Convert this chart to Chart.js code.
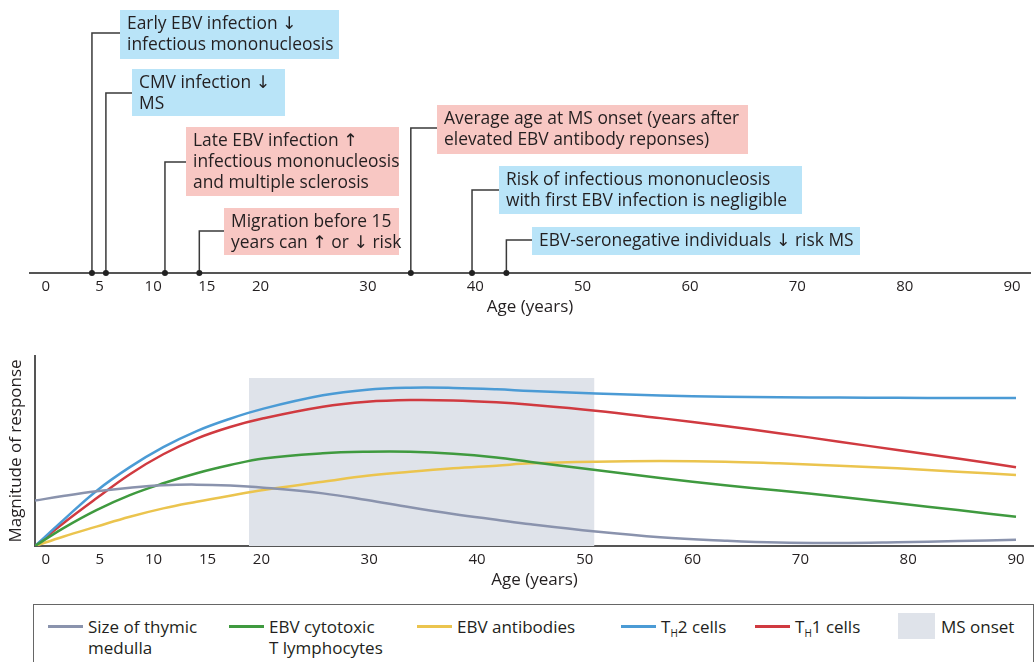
<!DOCTYPE html>
<html>
<head>
<meta charset="utf-8">
<script src="https://cdn.jsdelivr.net/npm/chart.js@4.4.1/dist/chart.umd.min.js"></script>
<style>
  body { margin: 0; background: #fff; width: 1034px; height: 662px; overflow: hidden; position: relative; font-family: 'Open Sans', sans-serif; color: #231f20; }
  #timeline { position: absolute; left: 0; top: 0; }
  #response { position: absolute; left: 0; top: 330px; }
  #legend { position: absolute; left: 33px; top: 604px; width: 1001px; height: 80px; border: 1px solid #666; box-sizing: border-box; }
  .item { position: absolute; top: 11px; display: flex; font-size: 17px; line-height: 21px; white-space: nowrap; }
  .mark { width: 35px; height: 3px; margin-top: 9px; margin-right: 5px; flex: none; }
  .box { position: absolute; top: 8px; width: 37px; height: 26px; background: #dfe3ea; }
  sub { font-size: 10px; vertical-align: -4px; line-height: 0; }
</style>
</head>
<body>
<canvas id="timeline" width="1034" height="320"></canvas>
<canvas id="response" width="1034" height="270"></canvas>
<div id="legend"></div>
<script>
// axis ticks shared by both panels
const tickAges = [0, 5, 10, 15, 20, 30, 40, 50, 60, 70, 80, 90];

// timeline events (age in years)
const eventAges = [4.3, 5.6, 11.1, 14.3, 34, 39.7, 42.9];
const eventTexts = [
  ['Early EBV infection ↓', 'infectious mononucleosis'],
  ['CMV infection ↓', 'MS'],
  ['Late EBV infection ↑', 'infectious mononucleosis', 'and multiple sclerosis'],
  ['Migration before 15', 'years can ↑ or ↓ risk'],
  ['Average age at MS onset (years after', 'elevated EBV antibody reponses)'],
  ['Risk of infectious mononucleosis', 'with first EBV infection is negligible'],
  ['EBV-seronegative individuals ↓ risk MS']
];
const eventEffect = ['down', 'down', 'up', 'up', 'up', 'down', 'down'];

// response curves
const ages = [-1, 1.6, 4.7, 7.8, 10.9, 14, 17.1, 20.2, 25.7, 29.8, 33.8, 37.8, 41.8, 45, 51, 57, 63, 68, 73.6, 79, 84.6, 90];
const thymicMedulla = [23.9, 26.3, 28.8, 30.7, 32.0, 32.3, 31.8, 30.7, 27.7, 24.2, 20.4, 16.9, 13.8, 11.4, 7.6, 4.6, 2.8, 1.8, 1.6, 2.0, 2.6, 3.3];
const ebvCtl = [0, 9.3, 18.9, 26.8, 33, 38.3, 42.6, 46.1, 48.8, 49.6, 49.6, 48.6, 46.6, 44.2, 40.0, 35.8, 32.0, 29.2, 25.9, 22.5, 18.9, 15.4];
const ebvAntibodies = [0, 4.9, 10.2, 15.4, 19.8, 23.3, 26.5, 29.5, 33.8, 37.0, 39.1, 40.9, 42.3, 43.5, 44.4, 44.7, 44.4, 43.5, 42.3, 40.9, 39.1, 37.4];
const th2Cells = [0, 13.5, 29, 41.5, 52, 60.5, 67, 72.3, 79.3, 82.3, 83.3, 83.2, 82.5, 81.6, 80.3, 79.2, 78.6, 78.3, 78.1, 78, 77.9, 77.9];
const th1Cells = [0, 11.9, 25.1, 37.8, 48.3, 56.5, 62.6, 67.2, 73.3, 75.9, 76.8, 76.6, 75.6, 74.3, 71.2, 67.3, 63.2, 59.4, 54.9, 50.5, 46.1, 41.4];
const msOnsetAges = [18.85, 50.9];
const msOnsetLevel = 88.4;

const seriesNames = ['Size of thymic<br>medulla', 'EBV cytotoxic<br>T lymphocytes', 'EBV antibodies', 'T<sub>H</sub>2 cells', 'T<sub>H</sub>1 cells'];
const seriesColors = ['#8a93ad', '#3f9a3f', '#ebc44e', '#4b9bd5', '#d03a40'];
const seriesValues = [thymicMedulla, ebvCtl, ebvAntibodies, th2Cells, th1Cells];

const ink = '#231f20';
const font = '"Open Sans", "DejaVu Sans", sans-serif';

// callout boxes (pixel layout)
const boxLayout = [
  { x: 120, y: 10, w: 219, h: 49, ly: 33 },
  { x: 132, y: 69, w: 153, h: 47, ly: 93 },
  { x: 186, y: 127, w: 213, h: 69, ly: 162 },
  { x: 224, y: 208, w: 175, h: 47, ly: 231 },
  { x: 437, y: 105, w: 311, h: 49, ly: 128 },
  { x: 499, y: 166, w: 303, h: 48, ly: 190 },
  { x: 532, y: 227, w: 328, h: 28, ly: 240 }
];

const calloutPlugin = {
  id: 'callouts',
  beforeDatasetsDraw(chart) {
    const ctx = chart.ctx, xs = chart.scales.x, base = chart.chartArea.bottom;
    eventAges.forEach((age, i) => {
      const px = xs.getPixelForValue(age), b = boxLayout[i];
      ctx.save();
      ctx.strokeStyle = '#3a3a3a';
      ctx.lineWidth = 1.5;
      ctx.beginPath();
      ctx.moveTo(px, base);
      ctx.lineTo(px, b.ly);
      ctx.lineTo(b.x, b.ly);
      ctx.stroke();
      ctx.fillStyle = eventEffect[i] === 'up' ? '#f8c7c3' : '#b9e4f8';
      ctx.fillRect(b.x, b.y, b.w, b.h);
      ctx.fillStyle = ink;
      ctx.font = '17.4px ' + font;
      ctx.textBaseline = 'middle';
      eventTexts[i].forEach((t, j) => ctx.fillText(t, b.x + 7, b.y + 14.5 + j * 21));
      ctx.restore();
    });
  }
};

function ageAxis(min, height, titlePad) {
  return {
    type: 'linear',
    min: min,
    max: 91.67,
    afterBuildTicks: s => { s.ticks = tickAges.map(v => ({ value: v })); },
    afterFit: s => { s.height = height; },
    grid: { display: false, drawTicks: false },
    border: { display: true, color: '#555', width: 2 },
    ticks: { font: { family: font, size: 15 }, color: ink, padding: 5, maxRotation: 0, autoSkip: false },
    title: { display: true, text: 'Age (years)', font: { family: font, size: 17 }, color: ink, padding: { top: 0, bottom: titlePad } }
  };
}

new Chart(document.getElementById('timeline'), {
  type: 'scatter',
  data: {
    datasets: [{
      data: eventAges.map(a => ({ x: a, y: 0 })),
      pointRadius: 3,
      backgroundColor: '#222',
      borderWidth: 0,
      clip: false
    }]
  },
  options: {
    responsive: false,
    animation: false,
    layout: { padding: { left: 30, right: 0, top: 0, bottom: 0 } },
    plugins: { legend: { display: false }, tooltip: { enabled: false } },
    scales: {
      x: ageAxis(-1.47, 47, 3),
      y: { display: false, min: 0, max: 1 }
    }
  },
  plugins: [calloutPlugin]
});

const lineSets = seriesValues.map((vals, i) => ({
  label: seriesNames[i],
  data: ages.map((a, k) => ({ x: a, y: vals[k] })),
  borderColor: seriesColors[i],
  borderWidth: 2.5,
  pointRadius: 0,
  tension: 0.4,
  fill: false
}));
lineSets.push({
  label: 'MS onset',
  data: msOnsetAges.map(a => ({ x: a, y: msOnsetLevel })),
  borderWidth: 0,
  pointRadius: 0,
  backgroundColor: '#dfe3ea',
  fill: 'origin'
});

new Chart(document.getElementById('response'), {
  type: 'line',
  data: { datasets: lineSets },
  options: {
    responsive: false,
    animation: false,
    layout: { padding: { left: 0, right: 0, top: 26, bottom: 0 } },
    plugins: { legend: { display: false }, tooltip: { enabled: false } },
    scales: {
      x: ageAxis(-1, 54, 10),
      y: {
        min: 0,
        max: 100,
        afterFit: s => { s.width = 35; },
        ticks: { display: false },
        grid: { display: false, drawTicks: false },
        border: { display: true, color: '#555', width: 2 },
        title: { display: true, text: 'Magnitude of response', font: { family: font, size: 17 }, color: ink, padding: { top: 6, bottom: 0 } }
      }
    }
  }
});

// legend
const legendX = [48, 229, 417, 621, 755];
const legend = document.getElementById('legend');
seriesNames.forEach((name, i) => {
  const el = document.createElement('div');
  el.className = 'item';
  el.style.left = (legendX[i] - 34) + 'px';
  el.innerHTML = '<span class="mark" style="background:' + seriesColors[i] + '"></span><span>' + name + '</span>';
  legend.appendChild(el);
});
const sw = document.createElement('div');
sw.className = 'box';
sw.style.left = (898 - 34) + 'px';
legend.appendChild(sw);
const swLabel = document.createElement('div');
swLabel.className = 'item';
swLabel.style.left = (941 - 34) + 'px';
swLabel.textContent = 'MS onset';
legend.appendChild(swLabel);
</script>
</body>
</html>
